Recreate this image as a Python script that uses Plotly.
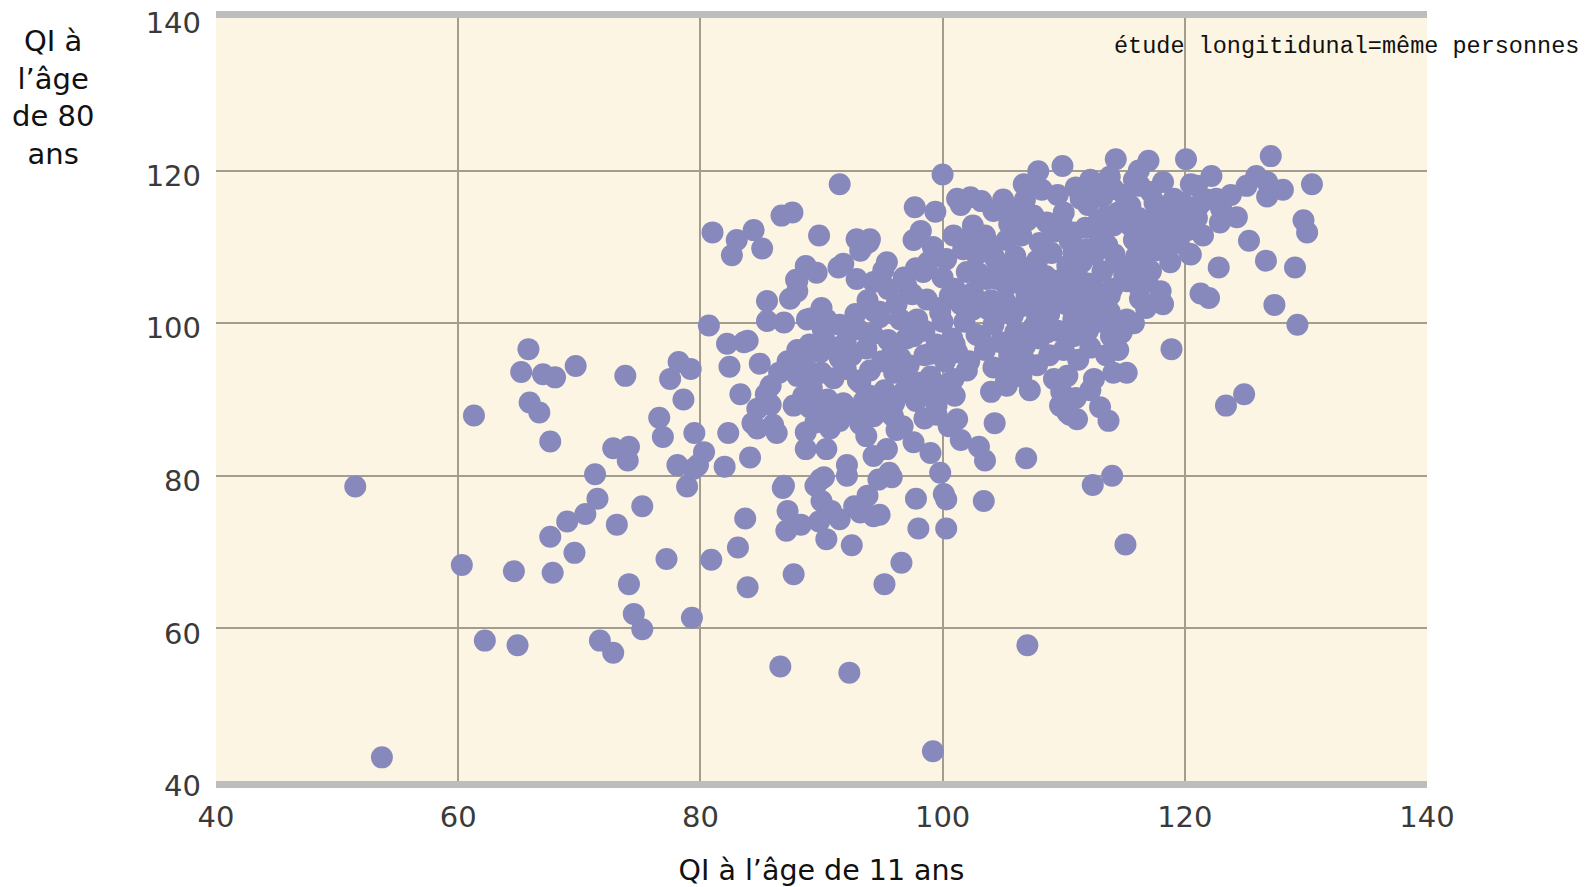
import plotly.graph_objects as go

# QI à 11 ans (x) et QI à 80 ans (y)
pts_sparse = [
    (51.5,78.6),(53.7,43.1),(60.3,68.3),(61.3,87.9),(62.2,58.4),(64.6,67.5),(64.9,57.8),(65.2,93.6),
    (65.8,96.6),(65.9,89.6),(66.7,88.3),(67.0,93.3),(67.6,84.5),(67.8,67.3),(67.6,72.0),(68.0,92.9),
    (69.0,74.0),(69.6,69.9),(69.7,94.4),(70.5,75.0),(71.3,80.2),(71.5,77.0),(71.7,58.4),(72.8,56.8),
    (72.8,83.6),(73.1,73.6),(73.8,93.1),(74.1,83.8),(74.0,82.0),(74.1,65.8),(74.5,61.9),(75.2,59.9),
    (75.2,76.0),(76.6,87.6),(76.9,85.1),(77.2,69.1),(77.5,92.7),(78.2,94.9),(78.1,81.4),(78.6,90.0),
    (78.9,78.6),(79.2,94.0),(79.3,61.4),(79.5,85.6),(79.8,81.4),(80.3,83.1),(80.7,99.7),(81.0,111.9),
    (80.9,69.0),(82.0,81.2),(82.2,97.3),(82.3,85.6),(82.4,94.3),(82.6,108.9),(83.0,110.9),(83.1,70.6),
    (83.7,74.4),(83.9,65.4),(84.1,82.4),(83.9,97.7),(84.4,112.2),(85.1,109.8),(84.9,94.7),(85.5,102.9),
    (85.4,90.7),(84.3,86.9),(85.8,89.3),(86.0,86.7),(86.6,55.0),(86.7,114.1),(87.6,114.5),(86.8,78.4),
    (87.1,72.8),(87.2,75.4),(87.7,67.1),(87.9,105.7),(87.4,103.2),(88.3,73.6),(88.7,107.5),(89.8,111.5),
    (89.1,100.6),(90.1,99.2),(89.6,106.6),(89.5,78.7),(90.0,76.7),(89.8,74.0),(90.2,79.8),(90.8,75.4),
    (91.5,118.2),(91.4,107.3),(92.5,70.9),(92.3,54.2),(92.9,111.0),(93.5,110.2),(93.9,110.6),(92.1,81.4),
    (92.7,76.0),(93.8,77.4),(94.3,74.7),(94.7,79.5),(95.2,65.8),(95.8,79.8),(96.6,68.6),(97.8,77.0),
    (98.0,73.1),(99.2,43.9),(100.3,73.1),(99.8,80.4),(100.1,77.6),(101.5,84.7),(103.0,83.8),(103.5,82.0),
    (103.4,76.7),(104.3,86.9),(106.9,82.3),(107.0,57.8),(112.4,78.8),(114.0,80.0),(115.1,71.0),(113.7,87.2),
    (118.9,96.6),(123.4,89.2),(124.9,90.7),(129.3,99.8),(127.4,102.4),(129.1,107.3),(126.7,108.2),(130.1,111.9),
    (129.8,113.5),(130.5,118.2),(127.1,121.9),(128.1,117.5),(126.8,116.6),(125.9,119.3),(125.1,118.0),(125.3,110.8),
    (124.3,113.9),(122.8,107.3),(122.0,103.3),(121.3,103.9),(120.5,109.0),(120.1,121.5),(122.2,119.3),(117.0,121.3),
    (114.3,121.5),(116.2,120.0),(109.9,120.6),(107.9,119.9),(106.7,118.2),(100.0,119.5),
]

pts_upper = [
    (97.7,115.2),(99.4,114.6),(101.2,116.3),(102.3,116.5),(104.2,114.7),(105.2,114.7),(107.5,114.1),(97.6,110.9),
    (98.2,112.1),(95.4,108.0),(95.1,106.9),(97.0,104.9),(98.4,106.7),(100.6,103.6),(94.8,101.5),(96.5,100.5),
    (103.1,110.9),(104.2,108.8),(105.3,110.9),(106.4,107.5),(107.8,106.7),(108.6,113.2),(110.0,114.5),
    (111.4,116.3),(112.8,117.2),(114.1,117.6),(110.8,111.9),(112.8,113.2),(114.1,112.8),(111.9,109.7),(113.6,110.2),
    (110.3,107.5),(111.1,106.2),(108.6,104.5),(106.9,104.0),(105.3,104.9),(103.6,105.8),(102.0,106.7),(101.7,109.7),
    (100.3,108.4),(100.9,111.5),(102.5,101.8),(104.5,101.4),(106.7,102.3),(107.8,100.5),(111.4,102.3),(111.9,100.5),
    (113.8,103.6),(114.1,100.5),(98.7,103.1),(97.9,100.5),(99.8,101.4),
    (126.8,118.5),(122.6,116.3),(121.0,118.0),(118.2,118.5),(116.3,118.0),(121.5,111.5),(122.9,113.2),(120.7,114.5),
    (119.1,116.3),(117.4,113.7),(115.5,115.4),(118.5,111.5),(115.8,110.9),(120.4,109.1),(118.8,108.0),(116.3,107.5),
    (118.2,102.5),(116.3,103.2),(115.2,100.5),(116.9,105.4),(115.2,105.5),
    (94.0,111.0),(93.2,109.5),(88.0,105.5),(91.8,107.8),(92.9,105.8),(94.3,105.4),(88.0,104.2),(85.5,100.3),
    (86.9,100.1),(88.8,100.5),(90.4,100.5),(94.3,101.6),
]

pts_middle = [
    (79.4,80.9),(83.6,97.5),(83.3,90.7),(85.8,91.8),(84.7,88.8),(84.7,86.2),(86.3,85.6),(87.7,89.2),
    (88.0,93.1),(88.3,95.4),(89.9,96.2),(91.5,95.4),(93.7,96.7),(89.9,89.2),(90.7,86.2),(88.7,85.7),
    (88.7,83.5),(90.4,83.5),(92.1,80.0),(93.7,85.2),(94.3,87.8),(93.2,92.2),(86.9,78.7),(89.9,79.5),(94.3,82.6),
    (97.6,98.3),(95.9,96.6),(98.1,92.2),(100.9,92.7),(99.5,89.2),(101.2,87.4),(95.6,80.4),(96.7,86.5),
    (97.6,84.4),(95.4,83.5),(99.0,83.0),(94.8,89.2),(95.9,87.8),(105.3,91.8),(105.8,96.6),(106.9,94.9),
    (105.3,94.4),(109.2,92.7),(110.3,93.1),(109.7,89.2),(110.3,88.3),(111.1,87.4),(112.5,92.7),(114.1,93.5),
    (103.1,98.3),(108.6,98.8),(110.8,98.3),(113.9,98.3),
    (90.4,71.7),(91.5,74.3),(93.2,75.2),(100.3,76.9),(94.8,74.9),
]

pts_core = [
    (101.5,115.5),(105.5,113.0),(106.5,111.5),(108.0,110.5),(109.2,112.0),(110.5,110.8),(111.8,112.5),(113.0,111.0),
    (114.5,114.5),(115.5,112.8),(116.8,111.2),(117.5,109.5),(116.0,108.8),(114.8,107.5),(113.2,106.8),(112.0,105.2),
    (110.0,104.8),(109.0,103.0),(107.2,102.8),(105.8,101.0),(104.2,99.8),(102.8,98.5),(101.8,100.2),(100.8,98.0),
    (99.5,97.2),(98.5,95.8),(97.2,94.5),(96.0,93.5),(95.0,95.0),(94.0,93.8),(93.0,92.5),(92.0,94.0),
    (91.0,92.8),(90.0,93.5),(89.2,91.5),(88.5,90.5),(90.5,90.0),(91.8,89.5),(93.5,89.8),(95.2,91.2),
    (96.8,91.0),(97.8,89.8),(99.0,90.5),(100.2,95.0),(101.2,96.2),(102.2,95.0),(103.5,96.5),(104.8,97.5),
    (106.0,98.8),(107.5,99.5),(108.8,101.2),(110.2,102.5),(111.5,103.8),(112.8,102.0),(114.0,104.5),(115.0,106.2),
    (116.2,104.8),(117.2,106.8),(118.0,104.2),(117.8,111.8),(118.8,112.8),(119.5,110.5),(120.2,112.2),(121.0,113.8),
    (119.8,115.8),(118.5,114.8),(121.8,116.2),(123.0,115.0),(123.8,116.8),(120.5,118.2),(117.2,117.2),(115.8,118.8),
    (113.8,119.2),(112.2,118.8),(111.0,117.8),(109.5,116.8),(108.2,117.5),(106.8,116.2),(105.0,116.2),(103.2,116.0),
    (102.0,111.0),(99.2,110.0),(100.0,106.0),(101.0,104.5),(102.5,104.0),(104.0,103.0),(105.5,105.5),(103.8,101.8),
    (101.5,102.5),(100.0,100.2),(98.5,99.0),(97.0,98.0),(95.5,97.8),(94.2,98.6),(93.0,99.2),(92.0,97.5),
    (91.0,96.8),(90.2,98.2),(89.0,97.2),(88.0,96.5),(87.2,95.0),(86.5,93.5),(88.8,94.0),(92.5,95.8),
    (94.8,100.8),(96.2,102.5),(97.5,103.8),(95.5,104.5),(93.8,103.0),(92.8,101.2),(91.5,99.8),(90.0,102.0),
    (96.8,106.0),(98.8,108.0),(97.8,107.2),(99.8,102.0),(106.0,108.8),(107.8,108.2),(109.0,109.2),(111.5,108.0),
    (112.5,109.0),(114.2,109.0),(110.2,106.0),(108.5,106.2),(106.8,105.0),(105.0,107.5),(103.0,106.5),(104.5,108.0),
    (102.8,109.0),(103.5,111.5),(107.0,113.5),(112.0,115.5),(113.2,116.5),(115.0,116.8),(116.8,102.0),
    (115.8,100.0),(117.8,102.8),(114.8,98.8),(113.0,100.2),(112.0,99.0),(110.8,100.5),(109.5,99.0),(108.0,98.0),
    (106.8,97.0),(105.5,95.8),(104.2,94.2),(102.0,93.8),(101.0,90.5),(100.0,91.8),(99.0,93.0),(98.2,92.0),
    (97.0,92.8),(96.0,89.5),(95.0,88.5),(94.0,90.5),(92.8,88.0),(91.5,87.2),(90.5,88.0),(89.5,87.0),
    (89.0,89.0),(93.2,86.8),(96.2,86.0),(98.5,87.5),(99.5,88.0),(100.5,86.5),(104.0,91.0),(105.2,92.2),
    (106.5,93.0),(107.8,94.5),(108.8,95.8),(110.0,96.5),(111.2,95.2),(112.2,96.8),(113.5,95.8),(114.5,96.5),
    (115.2,93.5),(107.2,91.2),(109.8,91.0),(111.0,90.2),(112.2,91.2),(113.0,89.0),(110.5,88.0),
    (104.5,105.8),(106.2,106.5),(107.5,104.2),(109.5,105.6),(108.2,102.0),(110.8,109.2),(109.8,113.5),(106.0,115.0),
    (104.0,110.2),(102.5,112.8),(113.5,114.0),(116.2,113.8),(117.5,115.8),(119.2,114.0),(121.2,115.5),(118.3,109.8),
    (112.5,104.5),(113.8,101.5),(101.0,97.2),(99.0,96.0),(96.5,95.5),(103.0,102.8),(105.2,102.8),
]

points = pts_sparse + pts_upper + pts_middle + pts_core
iq_11 = [p[0] for p in points]
iq_80 = [p[1] for p in points]

tick_vals = [40, 60, 80, 100, 120, 140]
x_title = "QI à l’âge de 11 ans"
y_title = "QI à<br>l’âge<br>de 80<br>ans"
note = "étude longitidunal=même personnes"

fig = go.Figure()
fig.add_trace(go.Scatter(
    x=iq_11, y=iq_80, mode="markers",
    marker=dict(size=22, color="#8789bd", line=dict(width=0)),
    hoverinfo="x+y", showlegend=False,
))

tick_font = dict(family="DejaVu Sans", size=29, color="#3a3a3a")
fig.update_layout(
    width=1589, height=887,
    margin=dict(l=216, r=162, t=18, b=106),
    paper_bgcolor="white",
    plot_bgcolor="#fdf5e3",
    xaxis=dict(
        range=[40, 140], tickvals=tick_vals, tickfont=tick_font, automargin=False,
        showgrid=True, gridcolor="#a39d90", gridwidth=2,
        zeroline=False, showline=True, mirror=True, linecolor="#bdbdbd", linewidth=7,
        ticks="", ticklabelstandoff=4, ticklabeloverflow="allow",
        title=dict(text=x_title, font=dict(family="DejaVu Sans", size=28.5, color="#111"), standoff=30),
    ),
    yaxis=dict(
        range=[40, 140], tickvals=tick_vals, tickfont=tick_font, automargin=False,
        showgrid=True, gridcolor="#a39d90", gridwidth=2,
        zeroline=False, showline=False, ticks="", ticklabelstandoff=14, ticklabelshift=5,
        ticklabeloverflow="allow",
    ),
    annotations=[
        dict(text=y_title, xref="paper", yref="paper", x=-0.1345, y=0.896,
             xanchor="center", yanchor="middle", showarrow=False, align="center",
             font=dict(family="DejaVu Sans", size=29, color="#111")),
        dict(text=note, xref="paper", yref="paper", x=0.740, y=0.9625,
             xanchor="left", yanchor="middle", showarrow=False,
             font=dict(family="Liberation Mono", size=23.5, color="#111")),
    ],
)

# remove the page's default body margin so the figure fills the window exactly
fig.write_html("out.html", config={"displayModeBar": False},
               post_script="document.body.style.margin='0';")
